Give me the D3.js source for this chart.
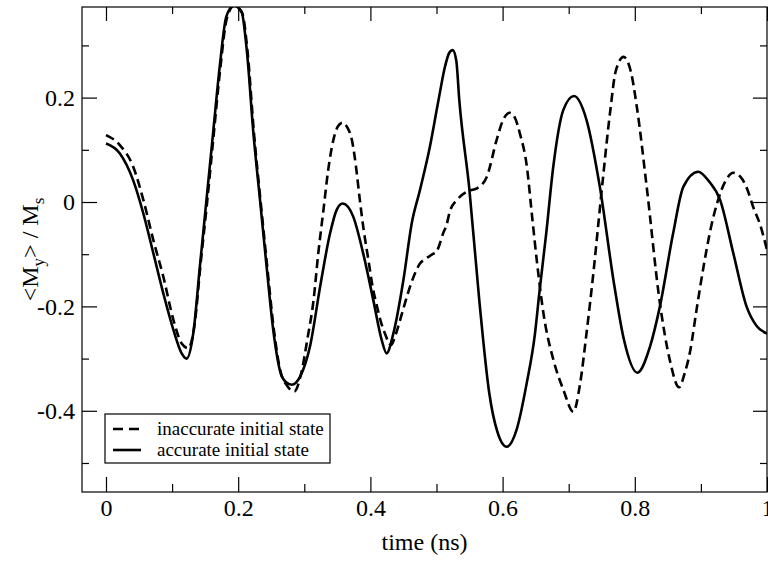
<!DOCTYPE html>
<html>
<head>
<meta charset="utf-8">
<script src="https://cdn.jsdelivr.net/npm/d3@7"></script>
<style>
  html, body { margin: 0; padding: 0; background: #fff; }
  svg { display: block; font-family: 'Liberation Serif', 'DejaVu Serif', serif; }
</style>
</head>
<body>
<svg id="chart" width="768" height="563"></svg>
<script>
// time (ns) and <My>/Ms
const timeInaccurate = [0, 0.021, 0.041, 0.0565, 0.0716, 0.0867, 0.102, 0.1145, 0.1245, 0.134, 0.143, 0.153, 0.163, 0.173, 0.183, 0.194, 0.206, 0.214, 0.224, 0.234, 0.244, 0.254, 0.264, 0.274, 0.285, 0.295, 0.305, 0.314, 0.321, 0.329, 0.336, 0.344, 0.351, 0.358, 0.365, 0.372, 0.378, 0.384, 0.39, 0.397, 0.403, 0.41, 0.416, 0.422, 0.431, 0.438, 0.445, 0.452, 0.46, 0.468, 0.475, 0.482, 0.488, 0.494, 0.5, 0.505, 0.51, 0.515, 0.52, 0.531, 0.546, 0.561, 0.576, 0.591, 0.6, 0.611, 0.618, 0.626, 0.637, 0.644, 0.652, 0.662, 0.677, 0.692, 0.707, 0.717, 0.727, 0.737, 0.75, 0.763, 0.771, 0.783, 0.794, 0.803, 0.818, 0.838, 0.853, 0.867, 0.875, 0.884, 0.893, 0.904, 0.915, 0.926, 0.938, 0.949, 0.96, 0.97, 0.979, 0.99, 1.0]
const myInaccurate = [0.128, 0.109, 0.068, 0.004, -0.073, -0.143, -0.226, -0.271, -0.28, -0.235, -0.12, 0.0, 0.13, 0.257, 0.353, 0.376, 0.362, 0.29, 0.13, 0.0, -0.125, -0.245, -0.325, -0.352, -0.363, -0.33, -0.26, -0.188, -0.1, -0.015, 0.06, 0.119, 0.145, 0.152, 0.143, 0.119, 0.07, 0.004, -0.055, -0.111, -0.16, -0.2, -0.23, -0.252, -0.274, -0.255, -0.226, -0.195, -0.162, -0.135, -0.118, -0.11, -0.105, -0.1, -0.095, -0.08, -0.06, -0.045, -0.019, 0.004, 0.02, 0.026, 0.048, 0.119, 0.155, 0.171, 0.163, 0.132, 0.065, -0.02, -0.115, -0.215, -0.303, -0.36, -0.402, -0.35, -0.251, -0.14, 0.023, 0.176, 0.25, 0.278, 0.25, 0.183, 0.029, -0.194, -0.303, -0.355, -0.33, -0.284, -0.21, -0.124, -0.05, 0.004, 0.042, 0.056, 0.048, 0.025, -0.009, -0.045, -0.092]

const timeAccurate = [0, 0.021, 0.041, 0.0565, 0.0716, 0.0867, 0.102, 0.1145, 0.122, 0.132, 0.142, 0.152, 0.162, 0.172, 0.182, 0.193, 0.205, 0.213, 0.223, 0.233, 0.243, 0.253, 0.263, 0.272, 0.281, 0.2935, 0.3086, 0.324, 0.339, 0.349, 0.358, 0.374, 0.389, 0.4044, 0.417, 0.4245, 0.4347, 0.45, 0.4625, 0.475, 0.49, 0.503, 0.513, 0.519, 0.5245, 0.53, 0.5345, 0.5496, 0.5647, 0.5798, 0.592, 0.6062, 0.621, 0.6365, 0.649, 0.6555, 0.666, 0.6767, 0.6918, 0.708, 0.727, 0.747, 0.7685, 0.7836, 0.8038, 0.823, 0.838, 0.858, 0.8734, 0.896, 0.912, 0.929, 0.949, 0.969, 0.984, 1.0]
const myAccurate = [0.112, 0.093, 0.042, -0.022, -0.098, -0.175, -0.245, -0.29, -0.3, -0.252, -0.124, 0.004, 0.132, 0.259, 0.355, 0.376, 0.365, 0.291, 0.132, 0.004, -0.124, -0.245, -0.322, -0.345, -0.35, -0.335, -0.277, -0.162, -0.06, -0.015, -0.003, -0.028, -0.098, -0.188, -0.264, -0.29, -0.252, -0.149, -0.041, 0.023, 0.106, 0.195, 0.26, 0.285, 0.291, 0.27, 0.195, 0.026, -0.188, -0.366, -0.44, -0.469, -0.437, -0.347, -0.252, -0.175, -0.06, 0.068, 0.176, 0.203, 0.157, 0.03, -0.156, -0.264, -0.327, -0.277, -0.2, -0.06, 0.029, 0.058, 0.04, 0.004, -0.098, -0.2, -0.237, -0.252]

const seriesNames = ['inaccurate initial state', 'accurate initial state']
const xTicks = [0, 0.2, 0.4, 0.6, 0.8, 1]
const xMinorTicks = [0.1, 0.3, 0.5, 0.7, 0.9]
const yTicks = [-0.4, -0.2, 0, 0.2]
const yMinorTicks = [-0.5, -0.3, -0.1, 0.1, 0.3]

const serif = "'Liberation Serif', 'DejaVu Serif', serif"
const svg = d3.select('#chart')

const margin = { top: 7, right: 1, bottom: 71, left: 82 }
const width = 768 - margin.left - margin.right
const height = 563 - margin.top - margin.bottom

const x = d3.scaleLinear().domain([-0.0363, 1.0]).range([0, width])
const y = d3.scaleLinear().domain([-0.5556, 0.3736]).range([height, 0])

const g = svg.append('g').attr('transform', `translate(${margin.left},${margin.top})`)

g.append('clipPath')
  .attr('id', 'plot-clip')
  .append('rect')
  .attr('width', width)
  .attr('height', height)

const fmt = d => (d === 0 ? '0' : String(d))
const fontSize = '24px'

// major + minor ticks on all four sides, pointing inward
const axes = [
  { axis: d3.axisBottom(x).tickValues(xTicks).tickFormat(fmt).tickSize(-15).tickPadding(7), at: `translate(0,${height})` },
  { axis: d3.axisBottom(x).tickValues(xMinorTicks).tickFormat('').tickSize(-8), at: `translate(0,${height})` },
  { axis: d3.axisTop(x).tickValues(xTicks).tickFormat('').tickSize(-14), at: 'translate(0,0)' },
  { axis: d3.axisTop(x).tickValues(xMinorTicks).tickFormat('').tickSize(-7), at: 'translate(0,0)' },
  { axis: d3.axisLeft(y).tickValues(yTicks).tickFormat(fmt).tickSize(-15).tickPadding(7), at: 'translate(0,0)' },
  { axis: d3.axisLeft(y).tickValues(yMinorTicks).tickFormat('').tickSize(-7), at: 'translate(0,0)' },
  { axis: d3.axisRight(y).tickValues(yTicks).tickFormat('').tickSize(-14), at: `translate(${width},0)` },
  { axis: d3.axisRight(y).tickValues(yMinorTicks).tickFormat('').tickSize(-7), at: `translate(${width},0)` },
]

axes.forEach(a => {
  const ax = g.append('g').attr('transform', a.at).call(a.axis)
  ax.attr('font-family', serif)
  ax.select('.domain').remove()
  ax.selectAll('line').attr('stroke', '#000').attr('stroke-width', 1.2)
  ax.selectAll('text')
    .attr('fill', '#000')
    .attr('font-family', serif)
    .attr('font-size', fontSize)
})

// plot frame
g.append('rect')
  .attr('width', width)
  .attr('height', height)
  .attr('fill', 'none')
  .attr('stroke', '#000')
  .attr('stroke-width', 1.2)

const line = d3.line()
  .x(d => x(d[0]))
  .y(d => y(d[1]))
  .curve(d3.curveMonotoneX)

const lines = g.append('g').attr('clip-path', 'url(#plot-clip)')

lines.append('path')
  .datum(d3.zip(timeInaccurate, myInaccurate))
  .attr('d', line)
  .attr('fill', 'none')
  .attr('stroke', '#000')
  .attr('stroke-width', 2.6)
  .attr('stroke-dasharray', '9,5')

lines.append('path')
  .datum(d3.zip(timeAccurate, myAccurate))
  .attr('d', line)
  .attr('fill', 'none')
  .attr('stroke', '#000')
  .attr('stroke-width', 2.6)

// legend
const legend = g.append('g').attr('transform', `translate(${105 - margin.left},${414 - margin.top})`)

legend.append('rect')
  .attr('width', 225)
  .attr('height', 49)
  .attr('fill', '#fff')
  .attr('stroke', '#000')
  .attr('stroke-width', 1.2)

seriesNames.forEach((name, i) => {
  const yy = 15 + i * 21
  legend.append('line')
    .attr('x1', 8)
    .attr('x2', 36)
    .attr('y1', yy)
    .attr('y2', yy)
    .attr('stroke', '#000')
    .attr('stroke-width', 2.6)
    .attr('stroke-dasharray', i === 0 ? '10,6' : null)
  legend.append('text')
    .attr('x', 52)
    .attr('y', yy + 6)
    .attr('font-family', serif)
    .attr('font-size', '19px')
    .text(name)
})

// axis titles
svg.append('text')
  .attr('x', margin.left + width / 2)
  .attr('y', 550)
  .attr('text-anchor', 'middle')
  .attr('font-family', serif)
  .attr('font-size', fontSize)
  .text('time (ns)')

const yTitle = svg.append('text')
  .attr('transform', `translate(38,${margin.top + height / 2}) rotate(-90)`)
  .attr('text-anchor', 'middle')
  .attr('font-family', serif)
  .attr('font-size', fontSize)

yTitle.append('tspan').text('<M')
yTitle.append('tspan').attr('font-size', '17px').attr('dy', 6).text('y')
yTitle.append('tspan').attr('dy', -6).text('> / M')
yTitle.append('tspan').attr('font-size', '17px').attr('dy', 6).text('s')
</script>
</body>
</html>
